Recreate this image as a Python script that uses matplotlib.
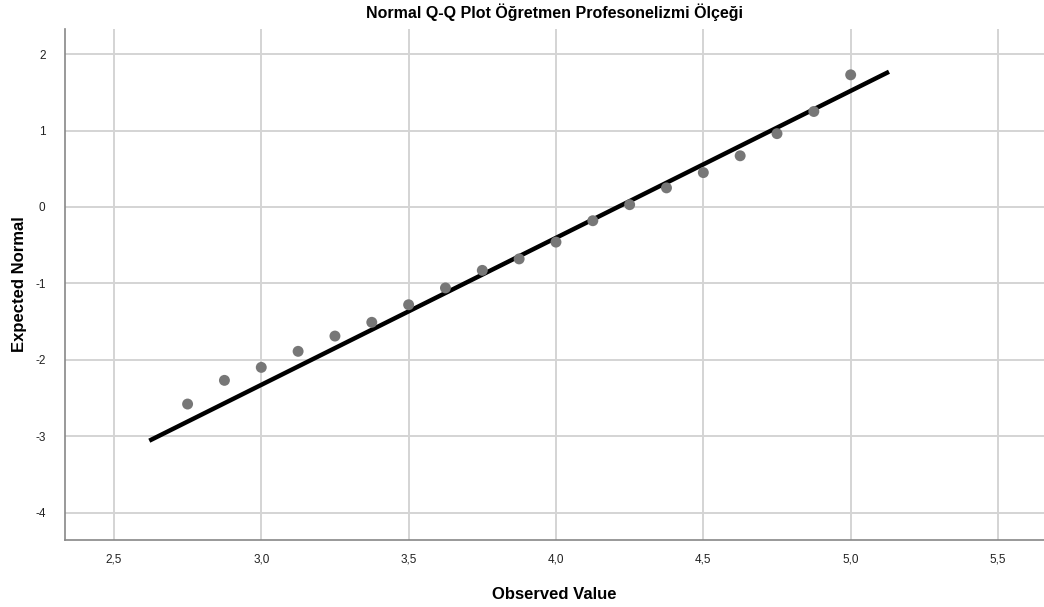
import matplotlib.pyplot as plt
from matplotlib.ticker import FuncFormatter

plt.rcParams['font.family'] = ['Liberation Sans', 'DejaVu Sans']

# gözlenen değerler ve beklenen normal değerler
obs = [2.75, 2.875, 3.0, 3.125, 3.25, 3.375, 3.5, 3.625, 3.75, 3.875,
       4.0, 4.125, 4.25, 4.375, 4.5, 4.625, 4.75, 4.875, 5.0]
exp_norm = [-2.58, -2.27, -2.10, -1.89, -1.69, -1.51, -1.28, -1.06, -0.83, -0.68,
            -0.46, -0.18, 0.03, 0.25, 0.45, 0.67, 0.96, 1.25, 1.73]
# referans doğrusu
line_x = [2.62, 5.13]
line_y = [-3.06, 1.77]

xticks = [2.5, 3.0, 3.5, 4.0, 4.5, 5.0, 5.5]
yticks = [-4, -3, -2, -1, 0, 1, 2]

fig = plt.figure(figsize=(10.44, 6.07), dpi=100)
ax = fig.add_axes([65/1044, 1-540/607, 1-65/1044, (540-29)/607])

ax.grid(True, color='#d4d4d4', lw=1.4, zorder=0)
ax.plot(line_x, line_y, color='black', lw=3.2, solid_capstyle='butt', zorder=3)
ax.scatter(obs, exp_norm, s=62, color='#777777', edgecolors='none', zorder=4)

ax.set_xlim(2.334, 5.656)
ax.set_ylim(-4.36, 2.33)
ax.set_xticks(xticks)
ax.set_yticks(yticks)
ax.xaxis.set_major_formatter(FuncFormatter(lambda v, p: ('%.1f' % v).replace('.', ',')))
ax.yaxis.set_major_formatter(FuncFormatter(lambda v, p: '%d' % v))
ax.tick_params(length=0, labelsize=8.5, colors='#222222', pad=10)
ax.tick_params(axis='y', pad=14)

for s in ['top', 'right']:
    ax.spines[s].set_visible(False)
for s in ['left', 'bottom']:
    ax.spines[s].set_color('#888888')
    ax.spines[s].set_linewidth(1.2)

ax.set_title('Normal Q-Q Plot Öğretmen Profesonelizmi Ölçeği', fontsize=11.5,
             fontweight='bold', pad=8)
ax.set_xlabel('Observed Value', fontsize=12, fontweight='bold', labelpad=15)
ax.set_ylabel('Expected Normal', fontsize=12, fontweight='bold')
ax.yaxis.set_label_coords(-38/979, 0.5)

fig.savefig('out.png', dpi=100)
